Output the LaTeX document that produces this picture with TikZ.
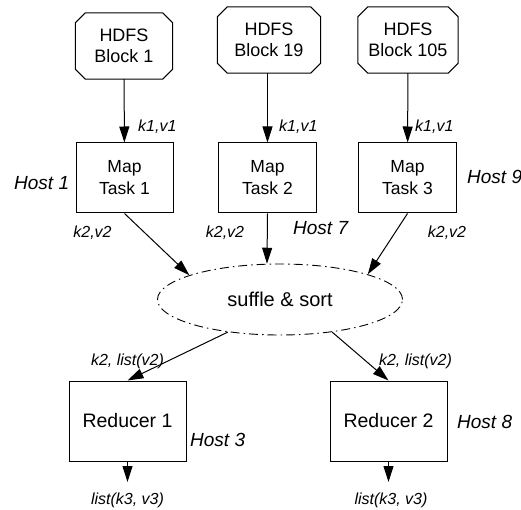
\documentclass[tikz,border=0pt]{standalone}
\usepackage{fontspec}
\setmainfont{Liberation Sans}
\usetikzlibrary{shapes.geometric,arrows.meta}

\tikzset{
  block/.style={rectangle, minimum height=66pt, inner sep=0pt, align=center,
    font=\fontsize{18}{20.5}\selectfont},
  outline/.style={line width=1pt},
  maptask/.style={rectangle, draw, line width=1pt, minimum width=98pt, minimum height=70pt,
    inner sep=0pt, align=center, font=\fontsize{17.5}{22}\selectfont},
  reducer/.style={rectangle, draw, line width=1pt, minimum width=117pt, minimum height=80pt,
    inner sep=0pt, align=center, font=\fontsize{19.5}{22}\selectfont},
  shuffle/.style={ellipse, draw, line width=0.9pt, minimum width=245pt, minimum height=71pt,
    inner sep=0pt, dash pattern=on 9pt off 4pt on 1.5pt off 4pt,
    font=\fontsize{20}{24}\selectfont},
  kv/.style={inner sep=0pt, font=\fontsize{16}{19}\selectfont\itshape},
  host/.style={inner sep=0pt, font=\fontsize{19}{22}\selectfont\itshape},
  flow/.style={line width=1pt, -{Triangle[length=16pt,width=10pt]}},
}

% outline of a block node with its four corners cut off by 10pt
\newcommand\cutcorners[1]{%
  \draw[outline] ([xshift=10pt]#1.north west) -- ([xshift=-10pt]#1.north east)
    -- ([yshift=-10pt]#1.north east) -- ([yshift=10pt]#1.south east)
    -- ([xshift=-10pt]#1.south east) -- ([xshift=10pt]#1.south west)
    -- ([yshift=10pt]#1.south west) -- ([yshift=-10pt]#1.north west) -- cycle;}

\begin{document}
\begin{tikzpicture}[x=1pt,y=-1pt]
\useasboundingbox (0,0) rectangle (521,510);

% HDFS input blocks
\node[block, minimum width=97pt]  (b1)  at (124,46) {HDFS\\Block 1};
\node[block, minimum width=103pt] (b19) at (269,40) {HDFS\\Block 19};
\node[block, minimum width=100pt] (b105) at (408,40) {HDFS\\Block 105};
\cutcorners{b1}
\cutcorners{b19}
\cutcorners{b105}

% map tasks
\node[maptask, minimum width=97pt] (m1) at (124.5,178) {Map\\Task 1};
\node[maptask] (m2) at (267.5,178) {Map\\Task 2};
\node[maptask] (m3) at (407.5,178) {Map\\Task 3};

% shuffle stage
\node[shuffle] (sh) at (280,299.5) {suffle \& sort};

% reducers
\node[reducer] (r1) at (127.5,421) {Reducer 1};
\node[reducer] (r2) at (388.5,421) {Reducer 2};

% outputs
\coordinate (o1) at (127.5,482);
\coordinate (o2) at (388.5,482);

% connectors
\draw[flow] (b1) -- (m1);
\draw[flow] (b19.south -| m2.north) -- (m2);
\draw[flow] (b105) -- (m3);
\draw[flow] (m1.south) -- (sh.165);
\draw[flow] (m2.south) -- (sh.110);
\draw[flow] (m3.south) -- (sh.16);
\draw[flow] (sh.212) -- (r1.north);
\draw[flow] (sh.328) -- (r2.north);
\draw[flow] (r1.south) -- (o1);
\draw[flow] (r2.south) -- (o2);

% key/value labels
\node[kv, anchor=west] (l1) at (138,127) {k1,v1};
\node[kv, anchor=west] (l2) at (279,127) {k1,v1};
\node[kv, anchor=west] (l3) at (415,127) {k1,v1};
\node[kv] (l4) at (92.5,233) {k2,v2};
\node[kv] (l5) at (225,233) {k2,v2};
\node[kv] (l6) at (447,233) {k2,v2};
\node[kv] (l7) at (127.5,361) {k2, list(v2)};
\node[kv] (l8) at (415.5,361) {k2, list(v2)};
\node[kv] (l9) at (127.5,500) {list(k3, v3)};
\node[kv] (l10) at (391,500) {list(k3, v3)};

% host labels
\node[host, anchor=west] (h1) at (14,183) {Host 1};
\node[host, anchor=west] (h7) at (293,228) {Host 7};
\node[host, anchor=west] (h9) at (467,177) {Host 9};
\node[host, anchor=west] (h3) at (190,440) {Host 3};
\node[host, anchor=west] (h8) at (457,422) {Host 8};
\end{tikzpicture}
\end{document}
